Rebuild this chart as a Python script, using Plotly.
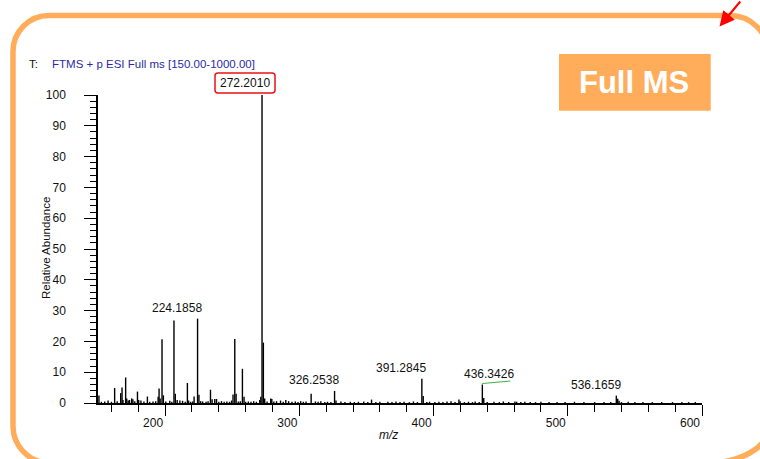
import plotly.graph_objects as go

# ---- spectrum data: centroid m/z and relative abundance (%) ----
mz_values = [
    150.7, 152.5, 155.0, 157.5, 160.0, 162.4, 164.3, 166.9, 167.9, 168.6,
    170.6, 171.4, 172.5, 173.5, 175.1, 176.0, 177.4, 179.4, 180.3, 182.0,
    184.2, 186.8, 188.5, 191.0, 193.0, 194.8, 195.5, 196.3, 197.7, 198.7,
    200.5, 203.5, 205.0, 206.6, 207.6, 209.0, 211.0, 213.0, 215.0, 216.6,
    217.5, 219.0, 220.5, 221.6, 224.1858, 225.2, 226.5, 228.0, 230.5, 232.0,
    233.8, 235.0, 237.0, 238.3, 240.0, 242.0, 244.0, 246.0, 248.0, 249.5,
    250.6, 251.9, 252.9, 254.5, 256.0, 257.6, 258.8, 260.0, 262.0, 264.0,
    266.0, 268.0, 270.5, 271.3, 272.2010, 273.2, 274.2, 276.0, 278.7, 279.5,
    281.0, 283.0, 286.0, 288.0, 289.9, 292.0, 294.5, 297.0, 299.0, 301.0,
    303.0, 305.0, 308.8, 312.0, 314.0, 316.0, 319.0, 321.0, 323.5, 326.2538,
    327.3, 331.0, 334.0, 338.0, 341.0, 344.0, 348.0, 351.0, 353.8, 357.0,
    360.0, 366.0, 369.0, 372.0, 375.0, 378.0, 382.0, 385.0, 388.0, 391.2845,
    392.3, 395.0, 397.0, 401.0, 404.0, 407.0, 410.0, 413.0, 416.0, 418.9,
    419.8, 423.0, 426.0, 429.0, 431.0, 434.0, 436.3426, 437.4, 440.0, 445.0,
    449.0, 452.0, 456.0, 460.6, 461.9, 465.0, 468.0, 472.0, 476.0, 480.0,
    486.0, 492.0, 498.0, 505.0, 512.0, 520.0, 527.0, 532.0, 536.1659, 537.2,
    538.2, 540.0, 545.0, 550.0, 556.0, 563.0, 570.0, 578.0, 585.0, 590.0,
    595.0,
]
rel_abundance = [
    2.4, 0.4, 0.5, 0.8, 0.4, 4.9, 0.6, 3.2, 5.0, 1.0,
    8.3, 1.5, 0.8, 1.0, 1.5, 1.2, 0.6, 3.7, 1.0, 0.8,
    0.5, 2.1, 0.4, 0.5, 0.6, 2.0, 4.7, 1.5, 20.7, 2.5,
    0.5, 0.7, 0.4, 26.8, 3.0, 1.0, 0.8, 0.7, 0.4, 6.5,
    0.8, 0.4, 0.5, 2.1, 27.4, 2.7, 0.6, 0.5, 0.4, 0.6,
    4.3, 1.2, 1.3, 1.3, 0.4, 0.6, 0.4, 0.5, 0.4, 0.8,
    2.8, 20.8, 3.0, 0.5, 0.6, 11.1, 2.0, 0.4, 0.5, 0.4,
    0.6, 0.4, 1.0, 2.0, 100.0, 19.6, 1.5, 0.5, 1.5, 1.3,
    0.5, 0.6, 0.8, 0.4, 1.0, 0.6, 0.4, 0.5, 0.3, 0.6,
    0.4, 0.5, 3.0, 0.5, 0.4, 0.6, 0.3, 0.4, 0.3, 3.9,
    0.8, 0.5, 0.3, 0.4, 0.3, 0.4, 0.5, 0.3, 1.1, 0.3,
    0.4, 0.4, 0.3, 0.5, 0.3, 0.4, 0.3, 0.5, 0.3, 7.9,
    2.3, 0.3, 0.4, 0.3, 0.4, 0.3, 0.5, 0.6, 0.3, 1.1,
    0.6, 0.3, 0.4, 0.3, 0.5, 0.3, 6.0, 1.6, 0.3, 0.4,
    0.3, 0.5, 0.3, 0.5, 0.4, 0.3, 0.4, 0.3, 0.3, 0.4,
    0.3, 0.3, 0.3, 0.4, 0.3, 0.3, 0.3, 0.3, 2.4, 1.4,
    0.7, 0.3, 0.4, 0.3, 0.3, 0.3, 0.3, 0.3, 0.3, 0.3,
    0.3,
]

# peaks that carry an m/z label: (m/z, abundance, x offset px)
labelled_peaks = [
    (224.1858, 27.4, -21),
    (326.2538, 3.9, -21),
    (391.2845, 7.9, -21),
    (536.1659, 2.4, -20),
]
base_peak = (272.2010, 100.0, -17)
shifted_peak = (436.3426, 6.0, 7)

x_range = [150, 600]
y_range = [0, 100]
x_tick_step = 100
x_minor_step = 20
y_tick_step = 10
y_minor_step = 2

scan_prefix = "T:"
scan_filter = "FTMS + p ESI Full ms [150.00-1000.00]"
badge_text = "Full MS"
x_title = "m/z"
y_title = "Relative Abundance"

FONT = "Liberation Sans, Arial, sans-serif"
ORANGE = "#FFAD5B"
NAVY = "#2a2aa6"

# ---- canvas geometry (pixels) ----
W, H = 760, 459
ML, MR, MT, MB = 98, 58, 95, 56
PW, PH = W - ML - MR, H - MT - MB


def px(x):
    return (x - ML) / PW


def py(y):
    return (H - MB - y) / PH


def data_px(m, a):
    """Pixel position of a data point on the canvas."""
    fx = (m - x_range[0]) / (x_range[1] - x_range[0])
    fy = (a - y_range[0]) / (y_range[1] - y_range[0])
    return ML + fx * PW, H - MB - fy * PH


# stick spectrum: one vertical segment per centroid
stick_x, stick_y = [], []
for m, a in zip(mz_values, rel_abundance):
    stick_x += [m, m, None]
    stick_y += [0, a, None]

fig = go.Figure()
fig.add_trace(go.Scatter(
    x=stick_x, y=stick_y, mode="lines",
    line=dict(color="black", width=1.4),
    hoverinfo="skip", showlegend=False, cliponaxis=False,
))

annotations = []
shapes = []


def fmt(v):
    return f"{v:.4f}"


for m, a, dx in labelled_peaks:
    annotations.append(dict(
        x=m, y=a, xref="x", yref="y", text=fmt(m), showarrow=False,
        xshift=dx, yshift=11, yanchor="middle",
        font=dict(family=FONT, size=12, color="#111111"),
    ))

# base peak label inside a rounded red frame
bm, ba, bdx = base_peak
bpx, bpy = data_px(bm, ba)
annotations.append(dict(
    x=bm, y=ba, xref="x", yref="y", text=fmt(bm), showarrow=False,
    xshift=bdx, yshift=12, yanchor="middle",
    font=dict(family=FONT, size=12, color="#111111"),
))
hw, hh, r = 30, 10, 3
cx, cy = bpx + bdx, bpy - 12
x0, x1, y0, y1 = cx - hw, cx + hw, cy - hh, cy + hh


def Q(x, y):
    return f"{px(x):.5f},{py(y):.5f}"


shapes.append(dict(
    type="path", xref="paper", yref="paper",
    path=(f"M{Q(x0 + r, y0)} L{Q(x1 - r, y0)} Q{Q(x1, y0)} {Q(x1, y0 + r)} "
          f"L{Q(x1, y1 - r)} Q{Q(x1, y1)} {Q(x1 - r, y1)} L{Q(x0 + r, y1)} "
          f"Q{Q(x0, y1)} {Q(x0, y1 - r)} L{Q(x0, y0 + r)} Q{Q(x0, y0)} {Q(x0 + r, y0)} Z"),
    line=dict(color="#ee1111", width=1.5), fillcolor="rgba(0,0,0,0)", layer="above",
))

# label moved to the side, with a green leader line
sm, sa, sdx = shifted_peak
annotations.append(dict(
    x=sm, y=sa, xref="x", yref="y", text=fmt(sm), showarrow=False,
    xshift=sdx, yshift=11, yanchor="middle",
    font=dict(family=FONT, size=12, color="#111111"),
))
spx, spy = data_px(sm, sa)
shapes.append(dict(
    type="line", xref="paper", yref="paper",
    x0=px(spx), y0=py(spy - 1), x1=px(spx + 28), y1=py(spy - 3.5),
    line=dict(color="#3cb043", width=1),
))

# scan header
annotations.append(dict(
    x=px(27), y=py(64), xref="paper", yref="paper", text=scan_prefix,
    showarrow=False, xanchor="left", yanchor="middle",
    font=dict(family=FONT, size=11.5, color="#111111"),
))
annotations.append(dict(
    x=px(50), y=py(64), xref="paper", yref="paper", text=scan_filter,
    showarrow=False, xanchor="left", yanchor="middle",
    font=dict(family=FONT, size=11.5, color=NAVY),
))

# axis titles
annotations.append(dict(
    x=px(388), y=py(435), xref="paper", yref="paper", text=f"<i>{x_title}</i>",
    showarrow=False, xanchor="center", yanchor="middle",
    font=dict(family=FONT, size=12, color="#111111"),
))
annotations.append(dict(
    x=px(45.5), y=py(248.5), xref="paper", yref="paper", text=y_title,
    showarrow=False, xanchor="center", yanchor="middle", textangle=-90,
    font=dict(family=FONT, size=11.5, color="#111111"),
))

# "Full MS" badge
shapes.append(dict(
    type="rect", xref="paper", yref="paper",
    x0=px(559), x1=px(710.7), y0=py(110.7), y1=py(54),
    fillcolor=ORANGE, line=dict(width=0), layer="above",
))
annotations.append(dict(
    x=px(633.5), y=py(82.5), xref="paper", yref="paper",
    text=f"<b>{badge_text}</b>", showarrow=False,
    xanchor="center", yanchor="middle",
    font=dict(family=FONT, size=31, color="white"),
))

# rounded orange frame around the panel (elliptical corners, cubic approx.)
KAPPA = 0.5523
fl, ft, fr, fb = 13, 15.5, 768, 463
tl = (36, 36)     # top-left corner radii (rx, ry)
tr = (38, 38)
br = (61, 35)
bl = (37, 37)


def P(x, y):
    return f"{px(x):.5f},{py(y):.5f}"


frame_path = (
    f"M{P(fl + tl[0], ft)} L{P(fr - tr[0], ft)} "
    f"C{P(fr - tr[0] + KAPPA * tr[0], ft)} {P(fr, ft + tr[1] - KAPPA * tr[1])} {P(fr, ft + tr[1])} "
    f"L{P(fr, fb - br[1])} "
    f"C{P(fr, fb - br[1] + KAPPA * br[1])} {P(fr - br[0] + KAPPA * br[0], fb)} {P(fr - br[0], fb)} "
    f"L{P(fl + bl[0], fb)} "
    f"C{P(fl + bl[0] - KAPPA * bl[0], fb)} {P(fl, fb - bl[1] + KAPPA * bl[1])} {P(fl, fb - bl[1])} "
    f"L{P(fl, ft + tl[1])} "
    f"C{P(fl, ft + tl[1] - KAPPA * tl[1])} {P(fl + tl[0] - KAPPA * tl[0], ft)} {P(fl + tl[0], ft)} Z"
)
shapes.append(dict(
    type="path", xref="paper", yref="paper", path=frame_path,
    line=dict(color=ORANGE, width=5.5), layer="below",
))

# red pointer arrow at the top-right corner
annotations.append(dict(
    x=px(719.5), y=py(26.5), xref="paper", yref="paper", text="",
    showarrow=True, arrowhead=2, arrowsize=1.5, arrowwidth=2,
    arrowcolor="#ff0000", ax=22, ay=-34,
))

tick_font = dict(family=FONT, size=12, color="#111111")

fig.update_layout(
    width=W, height=H,
    margin=dict(l=ML, r=MR, t=MT, b=MB, pad=0),
    paper_bgcolor="white", plot_bgcolor="white",
    showlegend=False,
    annotations=annotations, shapes=shapes,
    xaxis=dict(
        range=x_range, showgrid=False, zeroline=False,
        showline=True, linecolor="black", linewidth=1.5,
        ticks="outside", ticklen=11, tickwidth=1, tickcolor="black",
        tick0=0, dtick=x_tick_step, tickfont=tick_font,
        ticklabelshift=-12, ticklabelstandoff=-3,
        minor=dict(dtick=x_minor_step, tick0=0, ticks="outside",
                   ticklen=7, tickwidth=1, tickcolor="black"),
    ),
    yaxis=dict(
        range=y_range, showgrid=False, zeroline=False,
        showline=True, linecolor="black", linewidth=1.5,
        ticks="outside", ticklen=12, tickwidth=1, tickcolor="black",
        tick0=0, dtick=y_tick_step, tickfont=tick_font,
        ticklabelstandoff=16,
        minor=dict(dtick=y_minor_step, tick0=0, ticks="outside",
                   ticklen=6, tickwidth=1, tickcolor="black"),
    ),
)

fig.write_html("out.html")
